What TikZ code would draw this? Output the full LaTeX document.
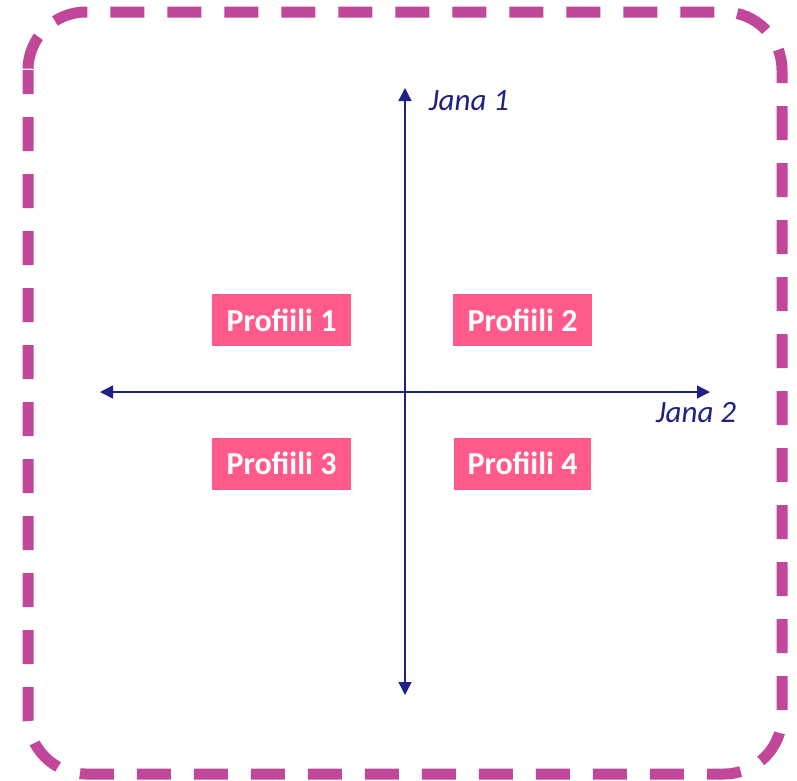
\documentclass[tikz,border=0pt]{standalone}
\usepackage{fontspec}
\setmainfont{Carlito}
\usetikzlibrary{arrows.meta}

\definecolor{rand}{HTML}{C0479A}
\definecolor{profiil}{HTML}{FF5A8A}
\definecolor{telg}{HTML}{1F2183}

\tikzset{
    profiilbox/.style={fill=profiil, text=white, font=\fontsize{32}{34}\selectfont\bfseries,
        minimum width=139pt, minimum height=52pt, inner sep=0pt},
    telglabel/.style={text=telg, font=\fontsize{31}{33}\selectfont\itshape, inner sep=0pt},
    telgjoon/.style={draw=telg, line width=1.4pt, -{Triangle[length=13pt,width=13pt]}}
}

\begin{document}
\begin{tikzpicture}[x=1pt, y=-1pt]
            \useasboundingbox (0,0) rectangle (797,780);
            \draw [rand, line width=11pt, rounded corners=58pt, dash pattern=on 34pt off 23pt, dash phase=10pt]
                (28,12) rectangle (782,774);

            \coordinate (o) at (405, 392);
            \coordinate (yles) at (405, 88);
            \coordinate (alla) at (405, 695);
            \coordinate (vasak) at (100, 392);
            \coordinate (parem) at (710, 392);

            \draw [telgjoon] (o) -- (yles);
            \draw [telgjoon] (o) -- (alla);
            \draw [telgjoon] (o) -- (vasak);
            \draw [telgjoon] (o) -- (parem);

            \node [telglabel] (jana1) at (469, 101) {Jana 1};
            \node [telglabel] (jana2) at (696, 413) {Jana 2};

            \node [profiilbox] (p1) at (281.5, 320) {Profiili 1};
            \node [profiilbox] (p2) at (522.5, 320) {Profiili 2};
            \node [profiilbox] (p3) at (281.5, 463.5) {Profiili 3};
            \node [profiilbox, minimum width=137pt] (p4) at (522.5, 463.5) {Profiili 4};
        \end{tikzpicture}
\end{document}
